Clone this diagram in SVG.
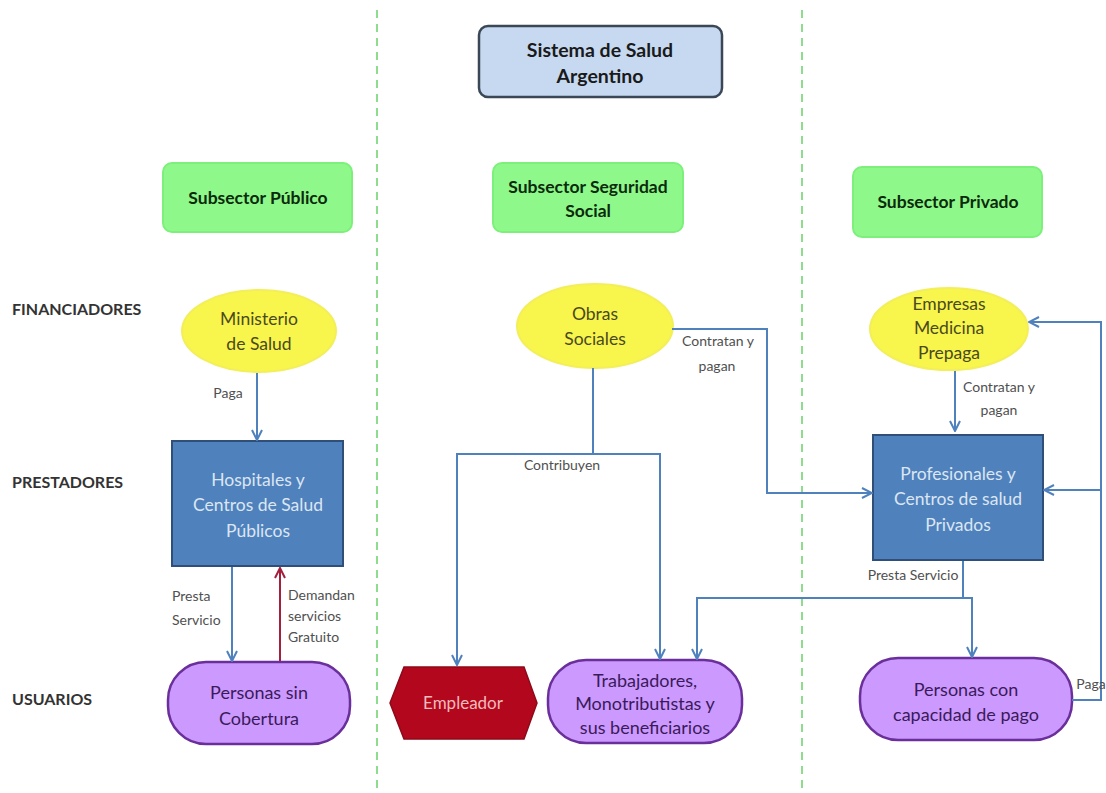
<svg xmlns="http://www.w3.org/2000/svg" width="1106" height="793" viewBox="0 0 1106 793">
<defs>
<marker id="ab" viewBox="0 0 12 12" refX="11" refY="6" markerWidth="12" markerHeight="12" markerUnits="userSpaceOnUse" orient="auto">
<path d="M1,1 L11,6 L1,11" fill="none" stroke="#4f81bd" stroke-width="2"/>
</marker>
<marker id="ar" viewBox="0 0 12 12" refX="11" refY="6" markerWidth="12" markerHeight="12" markerUnits="userSpaceOnUse" orient="auto">
<path d="M1,1 L11,6 L1,11" fill="none" stroke="#a31f3b" stroke-width="2"/>
</marker>
</defs>
<style>
.t{font-family:Lato,"Open Sans","Liberation Sans",sans-serif;text-anchor:middle}
.row{font-family:Lato,"Open Sans","Liberation Sans",sans-serif;font-weight:bold;font-size:16px;fill:#333}
.sub{fill:#8ef98a;stroke:#7cf07a;stroke-width:2}
.subt{font-weight:bold;font-size:17.5px;fill:#0c2a0c}
.ell{fill:#f8f54c;stroke:#f2ef5a;stroke-width:2}
.ellt{font-size:17.5px;fill:#4a4a1e}
.box{fill:#4f81bd;stroke:#2f4f78;stroke-width:2}
.boxt{font-size:17.5px;fill:#dce6f2}
.pill{fill:#cc99ff;stroke:#6a2f9a;stroke-width:2.5}
.pillt{font-size:18px;fill:#3b1a5a}
.lbl{font-family:Lato,"Open Sans","Liberation Sans",sans-serif;font-size:14px;fill:#505050}
.c{fill:none;stroke:#4f81bd;stroke-width:2}
.div{stroke:#8fdc8f;stroke-width:2;stroke-dasharray:8,6}
</style>
<rect width="1106" height="793" fill="#ffffff"/>
<g id="dividers">
<line class="div" x1="377" y1="10" x2="377" y2="793"/>
<line class="div" x1="802" y1="10" x2="802" y2="793"/>
</g>
<g id="row-labels">
<text class="row" x="12" y="315">FINANCIADORES</text>
<text class="row" x="12" y="488">PRESTADORES</text>
<text class="row" x="12" y="705">USUARIOS</text>
</g>
<g id="title">
<rect x="479" y="26" width="243" height="71" rx="9" fill="#c6d9f1" stroke="#3b4756" stroke-width="2.5"/>
<text class="t" x="600" y="57" font-size="19.5" font-weight="bold" fill="#1a1a1a">Sistema de Salud</text>
<text class="t" x="600" y="83" font-size="19.5" font-weight="bold" fill="#1a1a1a">Argentino</text>
</g>
<g id="sub-publico">
<rect class="sub" x="163" y="163" width="189" height="69" rx="9"/>
<text class="t subt" x="258" y="204">Subsector Público</text>
</g>
<g id="sub-seguridad">
<rect class="sub" x="493" y="163" width="190" height="69" rx="9"/>
<text class="t subt" x="588" y="193">Subsector Seguridad</text>
<text class="t subt" x="588" y="217">Social</text>
</g>
<g id="sub-privado">
<rect class="sub" x="853" y="167" width="189" height="70" rx="9"/>
<text class="t subt" x="948" y="208">Subsector Privado</text>
</g>
<g id="ministerio">
<ellipse class="ell" cx="259" cy="331" rx="77" ry="41"/>
<text class="t ellt" x="259" y="325">Ministerio</text>
<text class="t ellt" x="259" y="350">de Salud</text>
</g>
<g id="obras">
<ellipse class="ell" cx="595" cy="326" rx="78" ry="42"/>
<text class="t ellt" x="595" y="320">Obras</text>
<text class="t ellt" x="595" y="345">Sociales</text>
</g>
<g id="empresas">
<ellipse class="ell" cx="949" cy="329" rx="79" ry="41"/>
<text class="t ellt" x="949" y="310">Empresas</text>
<text class="t ellt" x="949" y="334">Medicina</text>
<text class="t ellt" x="949" y="359">Prepaga</text>
</g>
<g id="hospitales">
<rect class="box" x="172" y="441" width="171" height="125"/>
<text class="t boxt" x="258" y="486">Hospitales y</text>
<text class="t boxt" x="258" y="511">Centros de Salud</text>
<text class="t boxt" x="258" y="537">Públicos</text>
</g>
<g id="profesionales">
<rect class="box" x="873" y="435" width="170" height="125"/>
<text class="t boxt" x="958" y="480">Profesionales y</text>
<text class="t boxt" x="958" y="505">Centros de salud</text>
<text class="t boxt" x="958" y="531">Privados</text>
</g>
<g id="sin-cobertura">
<rect class="pill" x="168" y="662" width="182" height="82" rx="38"/>
<text class="t pillt" x="259" y="699" font-size="19">Personas sin</text>
<text class="t pillt" x="259" y="725" font-size="19">Cobertura</text>
</g>
<g id="empleador">
<polygon points="390,703 404,667 524,667 537,703 524,739 404,739" fill="#b3071e" stroke="#8e0a18" stroke-width="1.5"/>
<text class="t" x="463" y="709" font-size="17" fill="#f4bcbc">Empleador</text>
</g>
<g id="trabajadores">
<rect class="pill" x="548" y="660" width="194" height="83" rx="38"/>
<text class="t pillt" x="645" y="687">Trabajadores,</text>
<text class="t pillt" x="645" y="710">Monotributistas y</text>
<text class="t pillt" x="645" y="734">sus beneficiarios</text>
</g>
<g id="con-capacidad">
<rect class="pill" x="860" y="658" width="212" height="82" rx="38"/>
<text class="t pillt" x="966" y="696">Personas con</text>
<text class="t pillt" x="966" y="721">capacidad de pago</text>
</g>
<g id="connectors">
<line class="c" x1="257" y1="373" x2="257" y2="440" marker-end="url(#ab)"/>
<line class="c" x1="232" y1="567" x2="232" y2="661" marker-end="url(#ab)"/>
<line x1="280" y1="661" x2="280" y2="568" stroke="#a31f3b" stroke-width="2" marker-end="url(#ar)"/>
<polyline class="c" points="593,368 593,454"/>
<polyline class="c" points="593,454 457,454 457,665" marker-end="url(#ab)"/>
<polyline class="c" points="593,454 660,454 660,659" marker-end="url(#ab)"/>
<polyline class="c" points="672,329 767,329 767,493 872,493" marker-end="url(#ab)"/>
<line class="c" x1="955" y1="371" x2="955" y2="431" marker-end="url(#ab)"/>
<polyline class="c" points="963,561 963,598"/>
<polyline class="c" points="963,598 697,598 697,659" marker-end="url(#ab)"/>
<polyline class="c" points="963,598 972,598 972,657" marker-end="url(#ab)"/>
<polyline class="c" points="1072,700 1101,700 1101,322 1029,322" marker-end="url(#ab)"/>
<line class="c" x1="1101" y1="490" x2="1044" y2="490" marker-end="url(#ab)"/>
</g>
<g id="connector-labels">
<text class="t lbl" x="228" y="398">Paga</text>
<text class="lbl" x="172" y="601">Presta</text>
<text class="lbl" x="172" y="625">Servicio</text>
<text class="lbl" x="288" y="600">Demandan</text>
<text class="lbl" x="288" y="621">servicios</text>
<text class="lbl" x="288" y="642">Gratuito</text>
<text class="t lbl" x="562" y="470">Contribuyen</text>
<text class="t lbl" x="718" y="346">Contratan y</text>
<text class="t lbl" x="717" y="371">pagan</text>
<text class="t lbl" x="999" y="392">Contratan y</text>
<text class="t lbl" x="999" y="415">pagan</text>
<text class="t lbl" x="913" y="580">Presta Servicio</text>
<text class="t lbl" x="1091" y="689">Paga</text>
</g>
</svg>
